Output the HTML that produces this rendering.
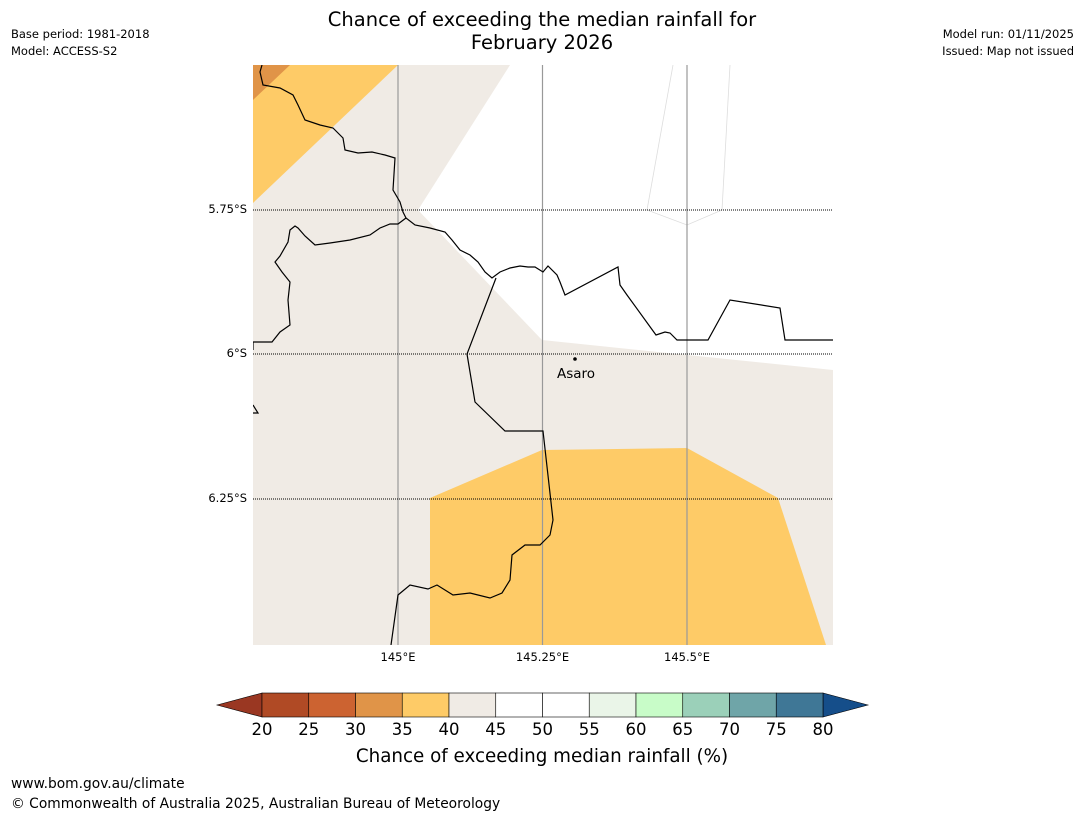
<!DOCTYPE html>
<html><head><meta charset="utf-8"><style>
body{margin:0;background:#fff;font-family:"Liberation Sans","DejaVu Sans",sans-serif}
svg{display:block}
</style></head><body>
<svg id="chart" width="1085" height="816" xmlns="http://www.w3.org/2000/svg" font-family="DejaVu Sans, Liberation Sans, sans-serif">
<text x="542" y="26" font-size="19.5" text-anchor="middle">Chance of exceeding the median rainfall for</text>
<text x="542" y="49" font-size="19.5" text-anchor="middle">February 2026</text>
<text x="11" y="38" font-size="11.5">Base period: 1981-2018</text>
<text x="11" y="55" font-size="11.5">Model: ACCESS-S2</text>
<text x="1074" y="38" font-size="11.5" text-anchor="end">Model run: 01/11/2025</text>
<text x="1074" y="55" font-size="11.5" text-anchor="end">Issued: Map not issued</text>
<g>
<clipPath id="mc"><rect x="253" y="65" width="580" height="580"/></clipPath>
<g clip-path="url(#mc)">
<rect x="253" y="65" width="580" height="580" fill="#f0ebe5"/>
<polygon points="510,65 833,65 833,370 542,340 418,210" fill="#ffffff"/>
<polygon points="253,65 398,65 253,203" fill="#fecb67"/>
<polygon points="253,65 290,65 253,100" fill="#e09448"/>
<polygon points="430,498 542,450 687,448 778,498 826,645 430,645" fill="#fecb67"/>
<polyline points="673,65 647,210 687,225 722,210 730,65" fill="none" stroke="#ddd" stroke-width="0.8"/>
<g stroke="#999" stroke-width="1.2"><line x1="398" y1="65" x2="398" y2="645"/><line x1="542.5" y1="65" x2="542.5" y2="645"/><line x1="687" y1="65" x2="687" y2="645"/></g>
<g stroke="#000" stroke-width="0.9" stroke-dasharray="1,1"><line x1="253" y1="210" x2="833" y2="210"/><line x1="253" y1="354" x2="833" y2="354"/><line x1="253" y1="499" x2="833" y2="499"/></g>
<g fill="none" stroke="#000" stroke-width="1.2">
<polyline points="262,65 260,72 263,85 280,88 293,95 298,105 305,120 320,125 333,128 343,138 345,150 358,153 372,152 385,155 395,158 393,190 400,202 403,212 406,218 415,225 430,228 445,232 452,240 460,250 470,255 478,262 485,272 492,278 500,272 510,268 520,266 528,267 535,267 543,272 548,266 557,275 560,282 565,295 618,267 620,285 627,295 656,335 665,332 670,333 677,340 708,340 730,300 780,308 785,340 833,340"/>
<polyline points="406,218 398,224 390,224 380,228 370,235 350,240 330,243 315,245 305,236 298,228 295,226 290,230 288,242 280,256 275,262 282,272 290,282 288,300 290,325 280,332 272,342 253,342 253,350"/>
<polyline points="496,278 467,354 475,402 505,431 543,431 553,520 550,535 540,545 525,545 512,555 510,580 502,593 490,598 470,593 453,595 437,585 428,589 410,585 398,595 391,645"/>
<polyline points="253,405 258,413 253,413"/>
</g>
<circle cx="575" cy="359" r="1.8" fill="#000"/>
<text x="557" y="378" font-size="13.5">Asaro</text>
</g>
</g>
<g font-size="11.5">
<text x="247" y="213" text-anchor="end">5.75°S</text>
<text x="247" y="357" text-anchor="end">6°S</text>
<text x="247" y="502" text-anchor="end">6.25°S</text>
<text x="398" y="661" text-anchor="middle">145°E</text>
<text x="542.5" y="661" text-anchor="middle">145.25°E</text>
<text x="687" y="661" text-anchor="middle">145.5°E</text>
</g>
<g id="cbar"></g>
<text x="542" y="762" font-size="18.3" text-anchor="middle">Chance of exceeding median rainfall (%)</text>
<text x="11" y="788" font-size="13.8">www.bom.gov.au/climate</text>
<text x="11" y="808" font-size="13.8">© Commonwealth of Australia 2025, Australian Bureau of Meteorology</text>
</svg>
<script>
const bounds=[20,25,30,35,40,45,50,55,60,65,70,75,80];
const colors=["#b04a25","#cc6331","#e09448","#fecb67","#f0ebe5","#ffffff","#ffffff","#eaf5e8","#c8fcc8","#9bd0b9","#6fa5a8","#3f7796"];
const lowColor="#9a3722", highColor="#154e8a";
const ns="http://www.w3.org/2000/svg";
const g=document.getElementById('cbar');
const x0=262,x1=823,y0=693,y1=717;
const sx=v=>x0+(v-bounds[0])/(bounds[bounds.length-1]-bounds[0])*(x1-x0);
function mk(t,a){const e=document.createElementNS(ns,t);for(const k in a)e.setAttribute(k,a[k]);g.appendChild(e);return e;}
let lo=mk('polygon',{points:`217,705 ${x0},${y0} ${x0},${y1}`,fill:lowColor,stroke:'#000','stroke-width':0.6});


let hi=mk('polygon',{points:`868,705 ${x1},${y0} ${x1},${y1}`,fill:highColor,stroke:'#000','stroke-width':0.6});


colors.forEach((c,i)=>{
 const r=mk('rect',{x:sx(bounds[i]),y:y0,width:sx(bounds[i+1])-sx(bounds[i]),height:y1-y0,fill:c,stroke:'#000','stroke-width':0.6});
 
 
});
bounds.forEach(b=>{
 const t=mk('text',{x:sx(b),y:735,'font-size':16.5,'text-anchor':'middle'});
 t.textContent=b;
 
 
});
</script>
</body></html>
